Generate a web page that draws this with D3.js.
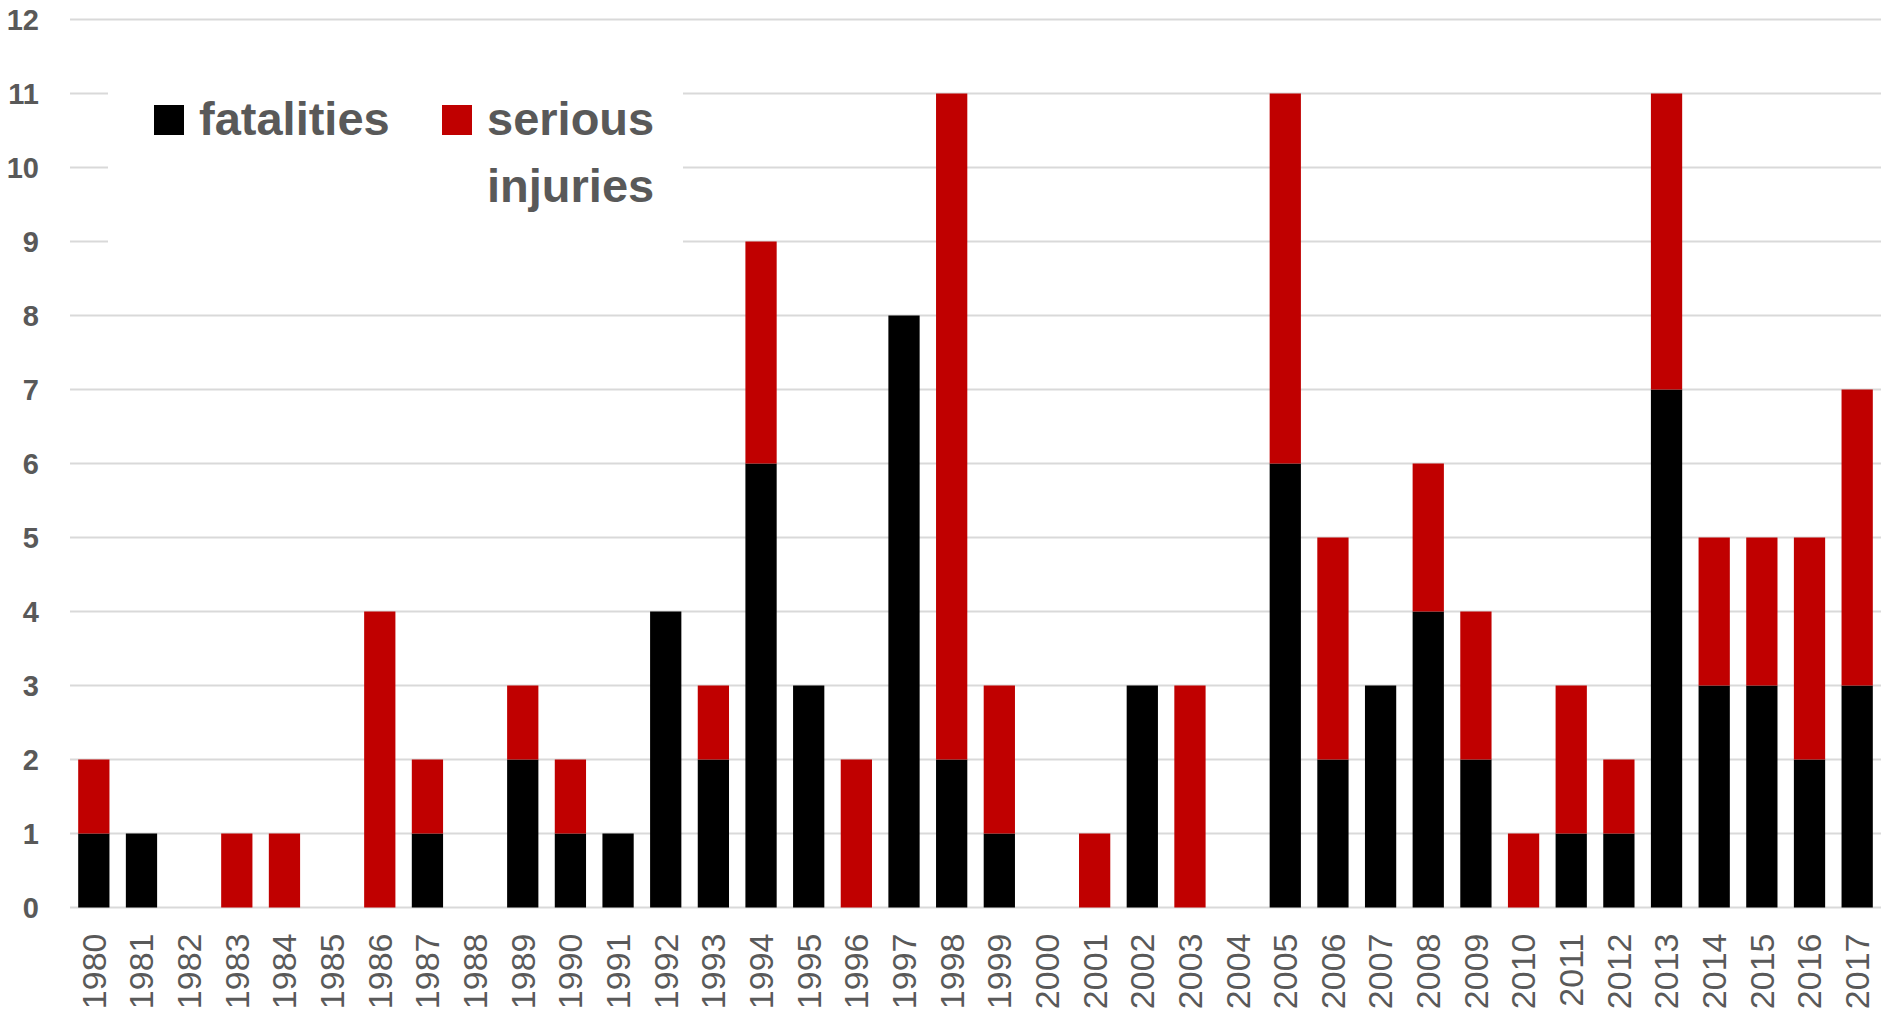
<!DOCTYPE html>
<html>
<head>
<meta charset="utf-8">
<script src="https://cdn.jsdelivr.net/npm/d3@7"></script>
<style>
  html, body { margin: 0; padding: 0; background: #fff; }
  svg { display: block; }
</style>
</head>
<body>
<svg id="chart" width="1881" height="1014"></svg>
<script>
const years = ["1980","1981","1982","1983","1984","1985","1986","1987","1988","1989",
  "1990","1991","1992","1993","1994","1995","1996","1997","1998","1999",
  "2000","2001","2002","2003","2004","2005","2006","2007","2008","2009",
  "2010","2011","2012","2013","2014","2015","2016","2017"];
const fatalities = [1,1,0,0,0,0,0,1,0,2, 1,1,4,2,6,3,0,8,2,1, 0,0,3,0,0,6,2,3,4,2, 0,1,1,7,3,3,2,3];
const seriousInjuries = [1,0,0,1,1,0,4,1,0,1, 1,0,0,1,3,0,2,0,9,2, 0,1,0,3,0,5,3,0,2,2, 1,2,1,4,2,2,3,4];
const seriesNames = ["fatalities", "serious injuries"];
const seriesColors = ["#000000", "#c00000"];
const yTicks = [0,1,2,3,4,5,6,7,8,9,10,11,12];

const svg = d3.select("#chart");
const plotLeft = 70, plotRight = 1881, plotTop = 19.5, plotBottom = 907.5;

const rows = years.map((yr, i) => ({ year: yr, fatalities: fatalities[i], serious: seriousInjuries[i] }));
const stack = d3.stack().keys(["fatalities", "serious"]);
const layers = stack(rows);

const x = d3.scaleBand().domain(years).range([plotLeft, plotRight]).paddingInner(0.344).paddingOuter(0.172);
const y = d3.scaleLinear().domain([0, 12]).range([plotBottom, plotTop]);

const textColor = "#595959";

// gridlines
svg.append("g").selectAll("line").data(yTicks).join("line")
  .attr("x1", plotLeft).attr("x2", plotRight)
  .attr("y1", d => y(d)).attr("y2", d => y(d))
  .attr("stroke", "#d9d9d9").attr("stroke-width", 2);

// y-axis labels
const yAxis = d3.axisLeft(y).tickValues(yTicks).tickSize(0).tickPadding(0);
const yg = svg.append("g").attr("transform", "translate(39,0)").call(yAxis);
yg.select(".domain").remove();
yg.selectAll("text")
  .attr("fill", textColor)
  .attr("font-family", "Liberation Sans, Arial, sans-serif")
  .attr("font-weight", "bold")
  .attr("font-size", 29)
  .attr("dy", "0.35em");

// bars
svg.append("g").selectAll("g").data(layers).join("g")
  .attr("fill", (d, i) => seriesColors[i])
  .selectAll("rect").data(d => d).join("rect")
  .attr("x", d => x(d.data.year))
  .attr("width", x.bandwidth())
  .attr("y", d => y(d[1]))
  .attr("height", d => y(d[0]) - y(d[1]));

// x labels
const xAxis = d3.axisBottom(x).tickSize(0).tickPadding(0);
const xg = svg.append("g").attr("transform", `translate(0,${plotBottom})`).call(xAxis);
xg.select(".domain").remove();
xg.selectAll(".tick text")
  .attr("fill", textColor)
  .attr("font-family", "Liberation Sans, Arial, sans-serif")
  .attr("font-size", 34)
  .attr("text-anchor", "end")
  .attr("transform", "rotate(-90)")
  .attr("x", -26)
  .attr("y", 0)
  .attr("dy", "0.35em");

// legend
const lg = svg.append("g");
lg.append("rect").attr("x", 108).attr("y", 35).attr("width", 575).attr("height", 228).attr("fill", "#fff");
const legendItems = [
  { name: seriesNames[0], color: seriesColors[0], sx: 154, tx: 199, lines: ["fatalities"] },
  { name: seriesNames[1], color: seriesColors[1], sx: 442, tx: 487, lines: ["serious", "injuries"] }
];
legendItems.forEach(it => {
  lg.append("rect").attr("x", it.sx).attr("y", 105).attr("width", 30).attr("height", 30).attr("fill", it.color);
  const t = lg.append("text")
    .attr("fill", textColor)
    .attr("font-family", "Liberation Sans, Arial, sans-serif")
    .attr("font-weight", "bold")
    .attr("font-size", 47);
  it.lines.forEach((ln, k) => {
    t.append("tspan").attr("x", it.tx).attr("y", 135 + k * 67).text(ln);
  });
});
</script>
</body>
</html>
